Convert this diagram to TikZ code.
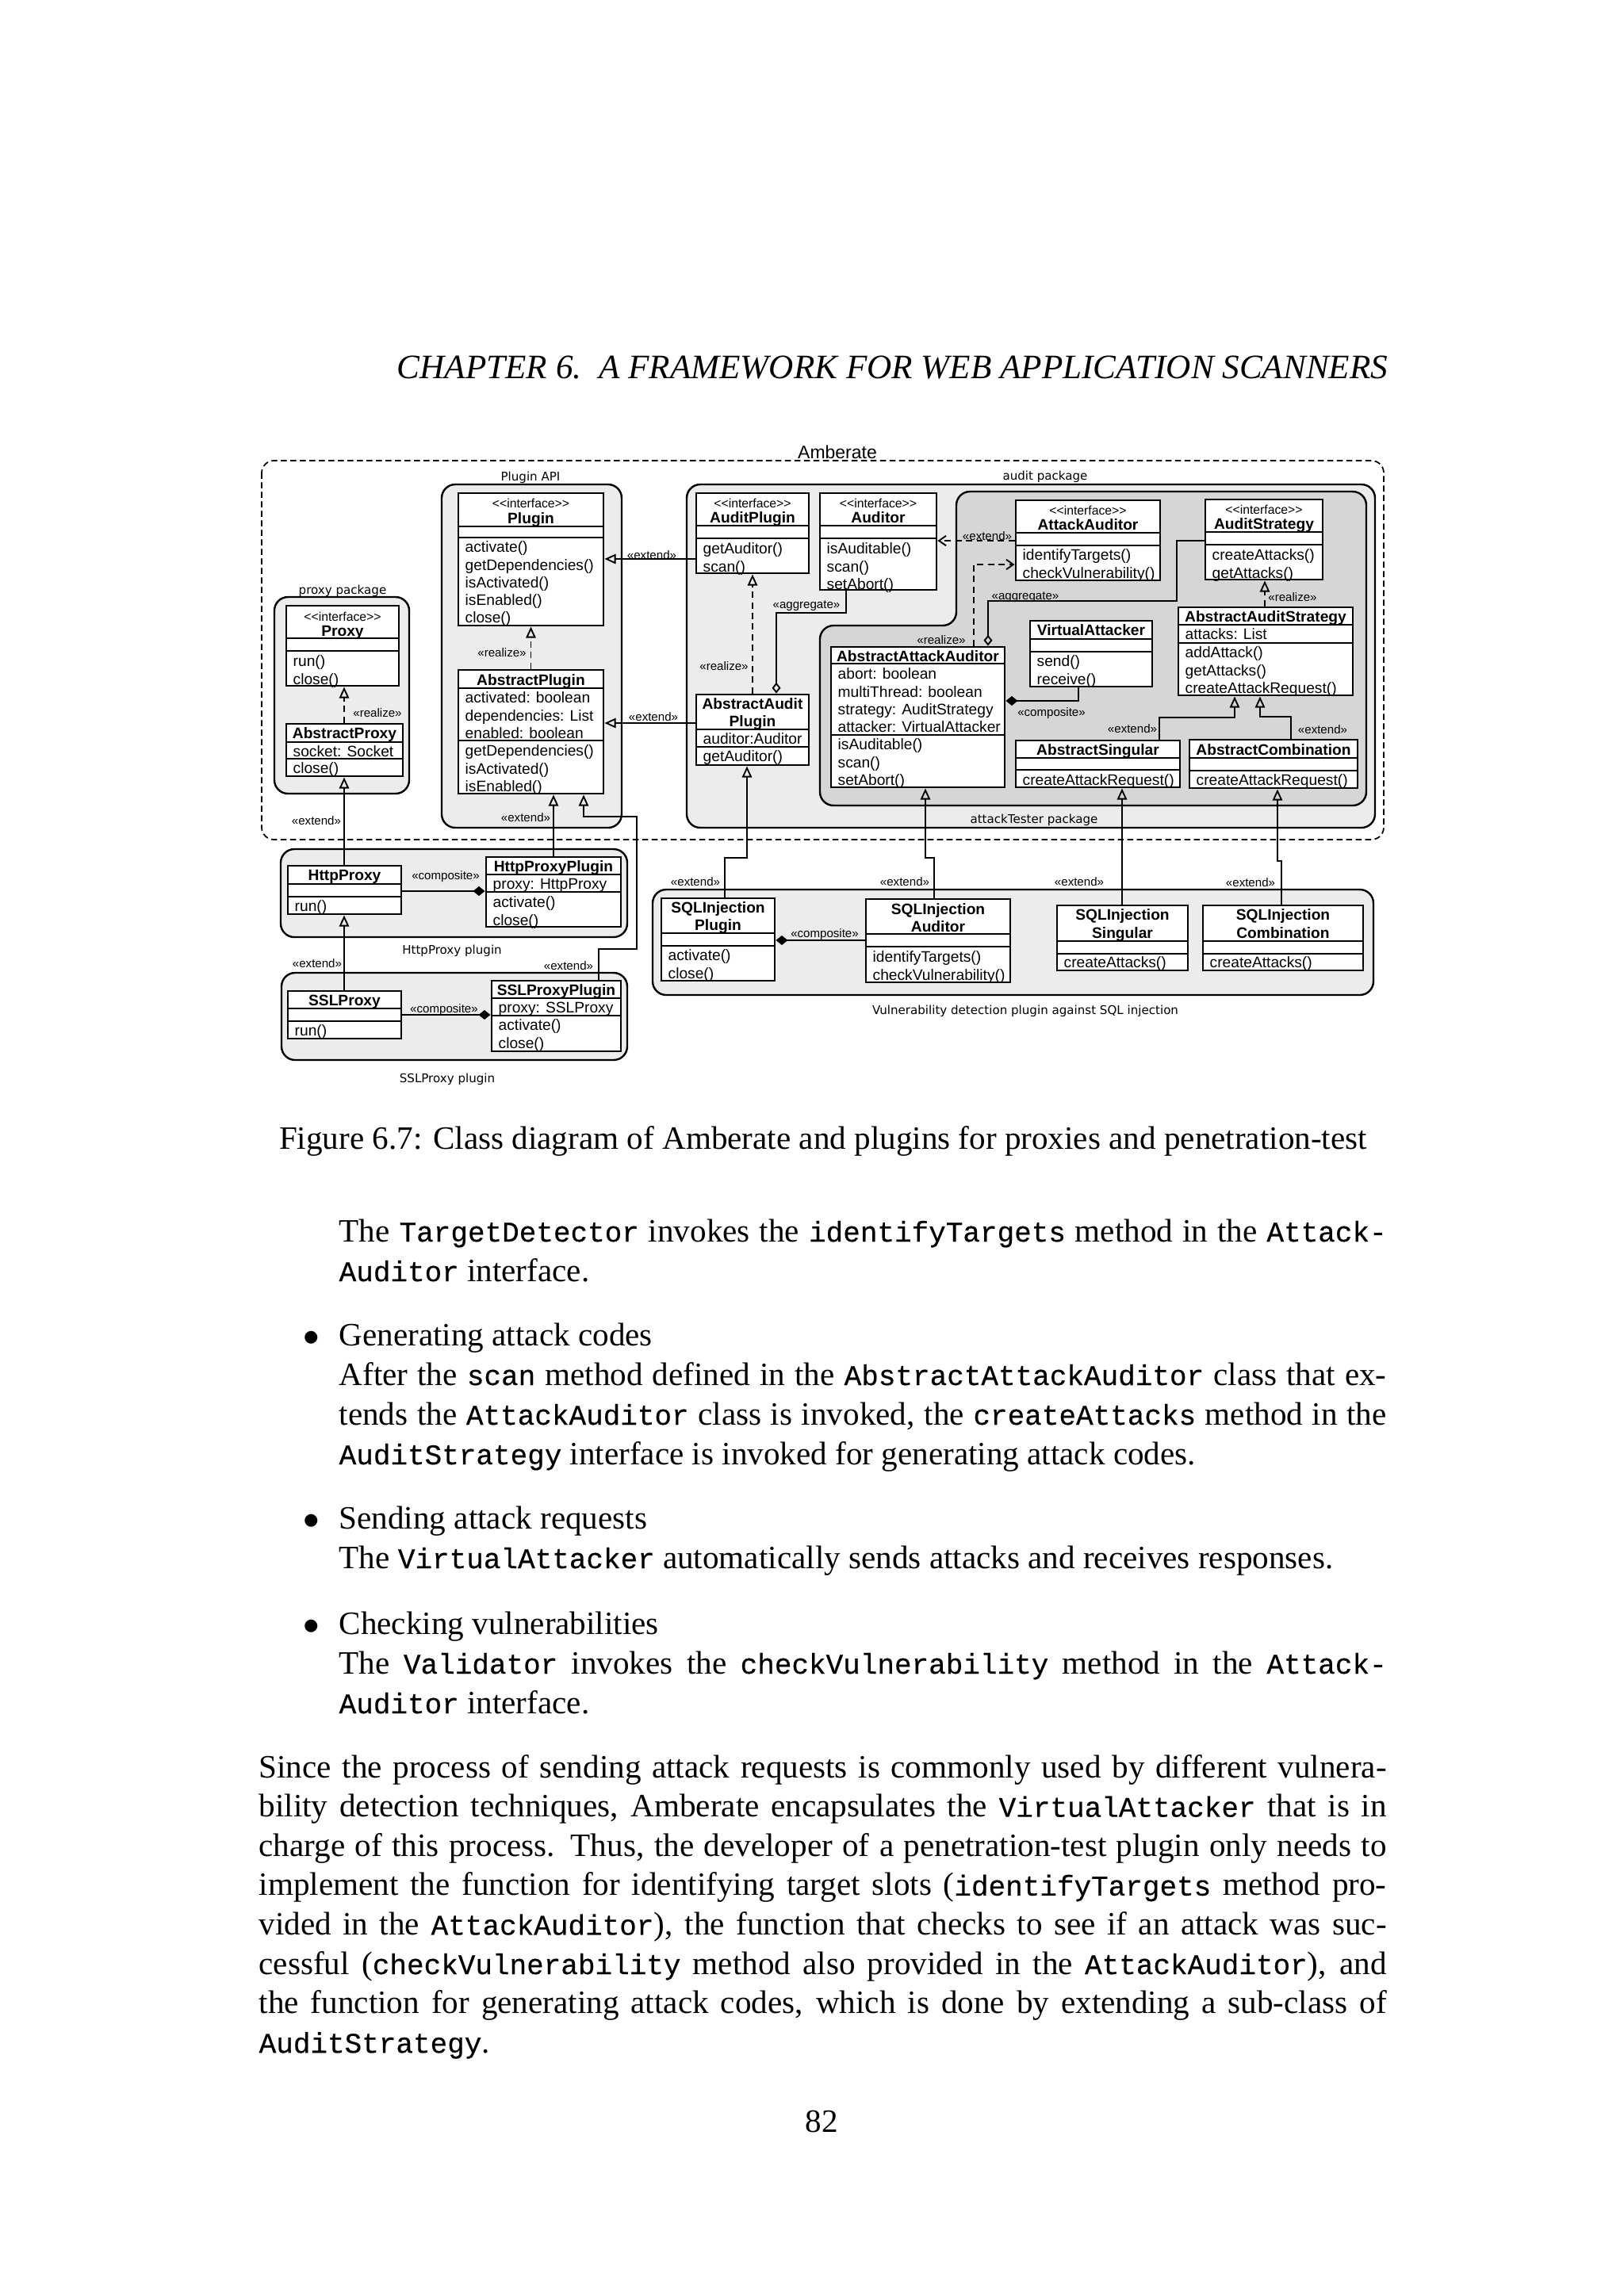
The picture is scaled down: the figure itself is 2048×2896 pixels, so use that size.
\documentclass[tikz,border=0pt]{standalone}
\usepackage{fontspec}
\setmainfont{Liberation Serif}
\setsansfont{Liberation Sans}
\setmonofont[Scale=0.875,FakeBold=0.4]{Liberation Mono}
\newfontfamily\pkgfont{DejaVu Sans}
\usetikzlibrary{arrows.meta,fit,calc}
\definecolor{pkgfill}{RGB}{236,236,236}
\definecolor{atfill}{RGB}{214,214,214}
\newcommand\cd[1]{\texttt{#1}}
\newcommand\iface{{<}{<}interface{>}{>}}
\newlength\fullw \setlength\fullw{14.581cm}
\newlength\indw \setlength\indw{13.545cm}
\tikzset{
  cls/.style={draw, line width=0.85pt, fill=white, inner sep=0pt},
  clsline/.style={line width=0.85pt},
  mem/.style={anchor=mid west, inner sep=0pt, font=\sffamily\fontsize{5.6}{6.4}\selectfont},
  cname/.style={anchor=mid, inner sep=0pt, font=\sffamily\bfseries\fontsize{5.6}{6.4}\selectfont},
  stereo/.style={anchor=mid, inner sep=0pt, font=\sffamily\fontsize{4.6}{5}\selectfont},
  lbl/.style={anchor=mid, inner sep=0pt, font=\sffamily\fontsize{4.4}{5}\selectfont},
  pkg/.style={draw, line width=0.7pt, fill=pkgfill, rounded corners=5pt},
  pkglbl/.style={anchor=mid, inner sep=0pt, font=\pkgfont\fontsize{4.4}{5}\selectfont},
  amb/.style={draw, line width=0.5pt, dash pattern=on 2.2pt off 1.3pt, rounded corners=4.5pt},
  conn/.style={line width=0.55pt},
  ext/.style={conn, -{Triangle[open, length=4.1pt, width=3.6pt]}},
  rea/.style={ext, dash pattern=on 2.3pt off 1.6pt},
  dext/.style={conn, dash pattern=on 2.3pt off 1.6pt, -{Straight Barb[length=2.6pt, width=3.6pt]}},
  agg/.style={conn, -{Diamond[open, length=4pt, width=3.2pt]}},
  comp/.style={conn, -{Diamond[length=4.4pt, width=3.5pt]}},
  body/.style={anchor=base west, inner sep=0pt, font=\fontsize{12}{14.5}\selectfont},
  bul/.style={anchor=base, inner sep=0pt, font=\fontsize{12}{14.5}\selectfont},
}
\newcommand\umlclass[7]{%
  \path (#2,#3) coordinate (#1-nw) (#4,#5) coordinate (#1-se);
  \node[cls, fit=(#1-nw)(#1-se)] (#1) {};
  \draw[clsline] (#2,#6) -- (#4,#6) (#2,#7) -- (#4,#7);
}
\newcommand\mems[4]{%
  \foreach \t [count=\i] in {#4} {\node[mem] (#1-\i) at (#2,{#3+(\i-1)*22.2}) {\t};}
}
\begin{document}
\begin{tikzpicture}[x=0.01025390625cm, y=-0.01025390625cm]
\fill[white] (0,0) rectangle (2048,2896);
\useasboundingbox (0,0) rectangle (2048,2896);

% header
\node[anchor=base east, inner sep=0pt, font=\itshape\fontsize{12.6}{14.5}\selectfont] (hdr) at (1751,477) {CHAPTER 6.\ \ A FRAMEWORK FOR WEB APPLICATION SCANNERS};

% ---------- packages ----------
\draw[amb] (330,581) rectangle (1745,1059);
\node[inner sep=0pt, anchor=mid, font=\sffamily\fontsize{6.7}{7}\selectfont] (amberate) at (1056,571) {Amberate};
\draw[pkg] (557,611) rectangle (784,1044);
\node[pkglbl] (pluginapi) at (669,599) {Plugin API};
\draw[pkg] (346,753) rectangle (516,1001);
\node[pkglbl] (proxypkg) at (432,742) {proxy package};
\draw[pkg] (866,611) rectangle (1734,1044);
\node[pkglbl] (auditpkg) at (1318,598) {audit package};
\draw[line width=0.7pt, fill=atfill, rounded corners=5pt] (1206,700) -- (1206,620) -- (1723,620) -- (1723,1016) -- (1034,1016) -- (1034,789) -- (1206,789) -- cycle;
\node[pkglbl] (atpkg) at (1304,1031) {attackTester package};
\draw[pkg] (354,1071) rectangle (791,1182);
\node[pkglbl] (httppkg) at (570,1196) {HttpProxy plugin};
\draw[pkg] (355,1227) rectangle (791,1337);
\node[pkglbl] (sslpkg) at (564,1358) {SSLProxy plugin};
\draw[pkg] (823,1122) rectangle (1732,1255);
\node[pkglbl] (vulnpkg) at (1293,1272) {Vulnerability detection plugin against SQL injection};

% ---------- classes ----------
\umlclass{plugin}{578}{622}{761}{789}{664}{678}
\node[stereo] (plugin-s) at (669.5,633) {\iface};
\node[cname] (plugin-n) at (669.5,653) {Plugin};
\mems{plugin}{586}{689}{activate(),getDependencies(),isActivated(),isEnabled(),close()}

\umlclass{abstractplugin}{578}{845}{761}{1001}{868}{934}
\node[cname] (abstractplugin-n) at (669.5,857) {AbstractPlugin};
\mems{abstractplugin-a}{586}{879}{activated: boolean,dependencies: List,enabled: boolean}
\mems{abstractplugin-m}{586}{946}{getDependencies(),isActivated(),isEnabled()}

\umlclass{proxy}{361}{764}{503}{865}{805}{821}
\node[stereo] (proxy-s) at (432,776) {\iface};
\node[cname] (proxy-n) at (432,795) {Proxy};
\mems{proxy}{369}{833}{run(),close()}

\umlclass{abstractproxy}{361}{913}{508}{979}{936}{957}
\node[cname] (abstractproxy-n) at (434.5,924) {AbstractProxy};
\mems{abstractproxy-a}{369}{947}{socket: Socket}
\mems{abstractproxy-m}{369}{968}{close()}

\umlclass{auditplugin}{878}{622}{1020}{723}{663}{679}
\node[stereo] (auditplugin-s) at (949,633) {\iface};
\node[cname] (auditplugin-n) at (949,652) {AuditPlugin};
\mems{auditplugin}{886}{691}{getAuditor(),scan()}

\umlclass{auditor}{1034}{622}{1181}{744}{663}{679}
\node[stereo] (auditor-s) at (1107.5,633) {\iface};
\node[cname] (auditor-n) at (1107.5,652) {Auditor};
\mems{auditor}{1042}{691}{isAuditable(),scan(),setAbort()}

\umlclass{abstractauditplugin}{878}{876}{1020}{965}{920}{942}
\node[cname] (abstractauditplugin-n1) at (949,887) {AbstractAudit};
\node[cname] (abstractauditplugin-n2) at (949,909) {Plugin};
\mems{abstractauditplugin-a}{886}{931}{auditor:Auditor}
\mems{abstractauditplugin-m}{886}{953}{getAuditor()}

\umlclass{attackauditor}{1281}{631}{1463}{732}{672}{688}
\node[stereo] (attackauditor-s) at (1372,642) {\iface};
\node[cname] (attackauditor-n) at (1372,661) {AttackAuditor};
\mems{attackauditor}{1289}{699}{identifyTargets(),checkVulnerability()}

\umlclass{auditstrategy}{1520}{630}{1668}{731}{671}{687}
\node[stereo] (auditstrategy-s) at (1594,641) {\iface};
\node[cname] (auditstrategy-n) at (1594,660) {AuditStrategy};
\mems{auditstrategy}{1528}{699}{createAttacks(),getAttacks()}

\umlclass{abstractattackauditor}{1048}{816}{1267}{993}{837}{927}
\node[cname] (abstractattackauditor-n) at (1157.5,827) {AbstractAttackAuditor};
\mems{abstractattackauditor-a}{1056}{849}{abort: boolean,multiThread: boolean,strategy: AuditStrategy,attacker: VirtualAttacker}
\mems{abstractattackauditor-m}{1056}{938}{isAuditable(),scan(),setAbort()}

\umlclass{virtualattacker}{1299}{783}{1453}{866}{806}{822}
\node[cname] (virtualattacker-n) at (1376,794) {VirtualAttacker};
\mems{virtualattacker}{1307}{833}{send(),receive()}

\umlclass{abstractauditstrategy}{1486}{766}{1706}{877}{788}{811}
\node[cname] (abstractauditstrategy-n) at (1596,777) {AbstractAuditStrategy};
\mems{abstractauditstrategy-a}{1494}{799}{attacks: List}
\mems{abstractauditstrategy-m}{1494}{822}{addAttack(),getAttacks(),createAttackRequest()}

\umlclass{abstractsingular}{1281}{934}{1488}{993}{956}{971}
\node[cname] (abstractsingular-n) at (1384.5,945) {AbstractSingular};
\mems{abstractsingular}{1289}{983}{createAttackRequest()}

\umlclass{abstractcombination}{1500}{933}{1712}{994}{956}{972}
\node[cname] (abstractcombination-n) at (1606,945) {AbstractCombination};
\mems{abstractcombination}{1508}{983}{createAttackRequest()}

\umlclass{httpproxy}{363}{1092}{506}{1153}{1115}{1131}
\node[cname] (httpproxy-n) at (434.5,1103) {HttpProxy};
\mems{httpproxy}{371}{1142}{run()}

\umlclass{httpproxyplugin}{613}{1081}{783}{1169}{1103}{1125}
\node[cname] (httpproxyplugin-n) at (698,1092) {HttpProxyPlugin};
\mems{httpproxyplugin-a}{621}{1114}{proxy: HttpProxy}
\mems{httpproxyplugin-m}{621}{1137}{activate(),close()}

\umlclass{sslproxy}{363}{1250}{506}{1310}{1272}{1288}
\node[cname] (sslproxy-n) at (434.5,1261) {SSLProxy};
\mems{sslproxy}{371}{1299}{run()}

\umlclass{sslproxyplugin}{620}{1237}{783}{1326}{1259}{1281}
\node[cname] (sslproxyplugin-n) at (701.5,1248) {SSLProxyPlugin};
\mems{sslproxyplugin-a}{628}{1270}{proxy: SSLProxy}
\mems{sslproxyplugin-m}{628}{1292}{activate(),close()}

\umlclass{sqlplugin}{834}{1133}{977}{1237}{1177}{1193}
\node[cname] (sqlplugin-n1) at (905.5,1144) {SQLInjection};
\node[cname] (sqlplugin-n2) at (905.5,1166) {Plugin};
\mems{sqlplugin}{842}{1204}{activate(),close()}

\umlclass{sqlauditor}{1092}{1134}{1274}{1239}{1178}{1194}
\node[cname] (sqlauditor-n1) at (1183,1146) {SQLInjection};
\node[cname] (sqlauditor-n2) at (1183,1168) {Auditor};
\mems{sqlauditor}{1100}{1206}{identifyTargets(),checkVulnerability()}

\umlclass{sqlsingular}{1333}{1142}{1498}{1224}{1187}{1203}
\node[cname] (sqlsingular-n1) at (1415.5,1153) {SQLInjection};
\node[cname] (sqlsingular-n2) at (1415.5,1176) {Singular};
\mems{sqlsingular}{1341}{1213}{createAttacks()}

\umlclass{sqlcombination}{1517}{1142}{1719}{1224}{1187}{1203}
\node[cname] (sqlcombination-n1) at (1618,1153) {SQLInjection};
\node[cname] (sqlcombination-n2) at (1618,1176) {Combination};
\mems{sqlcombination}{1525}{1213}{createAttacks()}

% ---------- connectors ----------
\draw[rea] (abstractplugin.north) -- (plugin.south);
\draw[rea] (abstractproxy.north -| 434,0) -- (proxy.south -| 434,0);
\draw[ext] (httpproxy.north -| 434,0) -- (abstractproxy.south -| 434,0);
\draw[ext] (httpproxyplugin.north -| 698,0) -- (abstractplugin.south -| 698,0);
\draw[ext] (sslproxyplugin.north -| 755,0) |- (803,1197) |- (736,1030) -- (abstractplugin.south -| 736,0);
\draw[ext] (sslproxy.north -| 434,0) -- (httpproxy.south -| 434,0);
\draw[comp] (httpproxy.east |- 0,1124) -- (httpproxyplugin.west |- 0,1124);
\draw[comp] (sslproxy.east |- 0,1280) -- (sslproxyplugin.west |- 0,1280);
\draw[ext] (auditplugin.west |- 0,705) -- (plugin.east |- 0,705);
\draw[ext] (abstractauditplugin.west |- 0,912) -- (abstractplugin.east |- 0,912);
\draw[rea] (abstractauditplugin.north -| 949,0) -- (auditplugin.south -| 949,0);
\draw[agg] (auditor.south -| 1067,0) |- (979,773) -- (abstractauditplugin.north -| 979,0);
\draw[dext] (attackauditor.west |- 0,682) -- (auditor.east |- 0,682);
\draw[dext] (abstractattackauditor.north -| 1228,0) |- (attackauditor.west |- 0,712);
\draw[agg] (auditstrategy.west |- 0,682) -| (1484,758) -| (abstractattackauditor.north -| 1246,0);
\draw[comp] (virtualattacker.south -| 1360,0) |- (abstractattackauditor.east |- 0,884);
\draw[rea] (abstractauditstrategy.north -| 1595,0) -- (auditstrategy.south -| 1595,0);
\draw[ext] (abstractsingular.north -| 1462,0) |- (1557,905) -- (abstractauditstrategy.south -| 1557,0);
\draw[ext] (abstractcombination.north -| 1628,0) |- (1589,904) -- (abstractauditstrategy.south -| 1589,0);
\draw[ext] (sqlplugin.north -| 914,0) |- (942,1082) -- (abstractauditplugin.south -| 942,0);
\draw[comp] (sqlauditor.west |- 0,1186) -- (sqlplugin.east |- 0,1186);
\draw[ext] (sqlauditor.north -| 1178,0) |- (1167,1082) -- (abstractattackauditor.south -| 1167,0);
\draw[ext] (sqlsingular.north -| 1415,0) -- (abstractsingular.south -| 1415,0);
\draw[ext] (sqlcombination.north -| 1616,0) |- (1611,1086) -- (abstractcombination.south -| 1611,0);

% connector labels
\node[lbl] (l1) at (633,821) {«realize»};
\node[lbl] (l2) at (476,897) {«realize»};
\node[lbl] (l3) at (913,838) {«realize»};
\node[lbl] (l4) at (1187,805) {«realize»};
\node[lbl] (l5) at (1630,751) {«realize»};
\node[lbl] (l6) at (399,1033) {«extend»};
\node[lbl] (l7) at (663,1029) {«extend»};
\node[lbl] (l8) at (717,1216) {«extend»};
\node[lbl] (l9) at (400,1213) {«extend»};
\node[lbl] (l10) at (822,698) {«extend»};
\node[lbl] (l11) at (824,902) {«extend»};
\node[lbl] (l12) at (1245,674) {«extend»};
\node[lbl] (l13) at (1428,917) {«extend»};
\node[lbl] (l14) at (1668,918) {«extend»};
\node[lbl] (l15) at (877,1110) {«extend»};
\node[lbl] (l16) at (1141,1110) {«extend»};
\node[lbl] (l17) at (1361,1110) {«extend»};
\node[lbl] (l18) at (1577,1111) {«extend»};
\node[lbl] (l19) at (562,1102) {«composite»};
\node[lbl] (l20) at (560,1270) {«composite»};
\node[lbl] (l21) at (1040,1175) {«composite»};
\node[lbl] (l22) at (1326,896) {«composite»};
\node[lbl] (l23) at (1017,760) {«aggregate»};
\node[lbl] (l24) at (1293,749) {«aggregate»};

% caption
\node[anchor=base, inner sep=0pt, font=\fontsize{12}{14.5}\selectfont] (cap) at (1038,1449) {Figure 6.7: Class diagram of Amberate and plugins for proxies and penetration-test};

% body text
\node[body] (t1) at (427,1566) {\makebox[\indw][s]{The \cd{TargetDetector} invokes the \cd{identifyTargets} method in the \cd{Attack-}}};
\node[body] (t2) at (427,1616) {\cd{Auditor} interface.};
\node[bul] (b1) at (393,1697) {$\bullet$};
\node[body] (t3) at (427,1697) {Generating attack codes};
\node[body] (t4) at (427,1747) {\makebox[\indw][s]{After the \cd{scan} method defined in the \cd{AbstractAttackAuditor} class that ex-}};
\node[body] (t5) at (427,1797) {\makebox[\indw][s]{tends the \cd{AttackAuditor} class is invoked, the \cd{createAttacks} method in the}};
\node[body] (t6) at (427,1847) {\cd{AuditStrategy} interface is invoked for generating attack codes.};
\node[bul] (b2) at (393,1928) {$\bullet$};
\node[body] (t7) at (427,1928) {Sending attack requests};
\node[body] (t8) at (427,1978) {The \cd{VirtualAttacker} automatically sends attacks and receives responses.};
\node[bul] (b3) at (393,2061) {$\bullet$};
\node[body] (t9) at (427,2061) {Checking vulnerabilities};
\node[body] (t10) at (427,2111) {\makebox[\indw][s]{The \cd{Validator} invokes the \cd{checkVulnerability} method in the \cd{Attack-}}};
\node[body] (t11) at (427,2161) {\cd{Auditor} interface.};
\node[body] (t12) at (326,2242) {\makebox[\fullw][s]{Since the process of sending attack requests is commonly used by different vulnera-}};
\node[body] (t13) at (326,2291.6) {\makebox[\fullw][s]{bility detection techniques, Amberate encapsulates the \cd{VirtualAttacker} that is in}};
\node[body] (t14) at (326,2341.2) {\makebox[\fullw][s]{charge of this process. Thus, the developer of a penetration-test plugin only needs to}};
\node[body] (t15) at (326,2390.8) {\makebox[\fullw][s]{implement the function for identifying target slots (\cd{identifyTargets} method pro-}};
\node[body] (t16) at (326,2440.4) {\makebox[\fullw][s]{vided in the \cd{AttackAuditor}), the function that checks to see if an attack was suc-}};
\node[body] (t17) at (326,2490) {\makebox[\fullw][s]{cessful (\cd{checkVulnerability} method also provided in the \cd{AttackAuditor}), and}};
\node[body] (t18) at (326,2539.6) {\makebox[\fullw][s]{the function for generating attack codes, which is done by extending a sub-class of}};
\node[body] (t19) at (326,2589.2) {\cd{AuditStrategy}.};
\node[anchor=base, inner sep=0pt, font=\fontsize{12}{14.5}\selectfont] (pg) at (1036,2689) {82};
\end{tikzpicture}
\end{document}
